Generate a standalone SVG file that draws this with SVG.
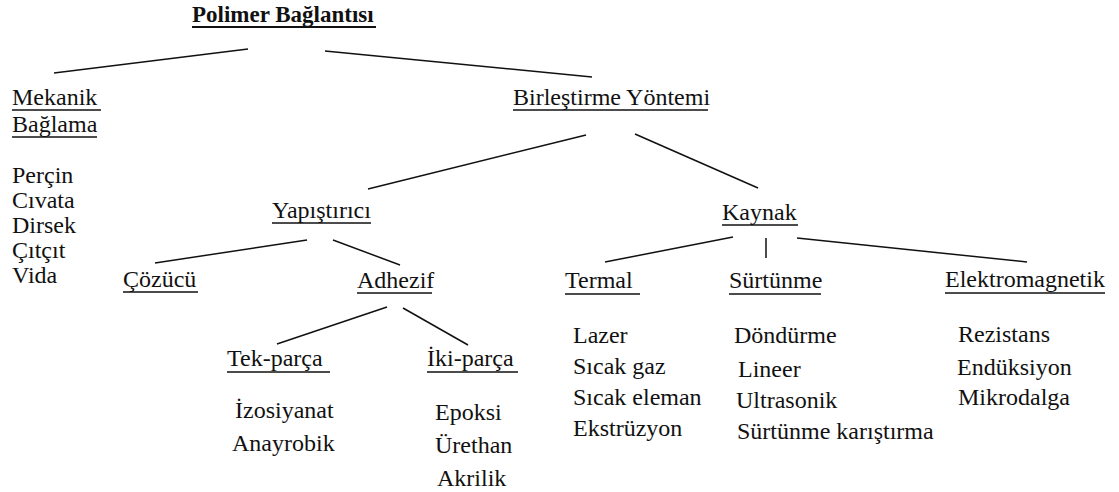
<svg xmlns="http://www.w3.org/2000/svg" width="1119" height="492" viewBox="0 0 1119 492">
<style>
text{font-family:'Liberation Serif','Tinos','Times New Roman','DejaVu Serif',serif;font-size:24px;fill:#111}
.title{font-weight:bold;font-size:23px}
.ul{stroke:#111;stroke-width:1.5}
.ut{stroke:#111;stroke-width:2.2}
.c line{stroke:#111;stroke-width:1.5}
</style>
<rect width="1119" height="492" fill="#fff"/>
<g class="c" id="connectors">
<line x1="248" y1="49" x2="54" y2="73"/>
<line x1="325" y1="51" x2="592" y2="77"/>
<line x1="586" y1="135" x2="368" y2="189"/>
<line x1="635" y1="134" x2="758" y2="188"/>
<line x1="307" y1="240" x2="155" y2="263"/>
<line x1="333" y1="240" x2="400" y2="265"/>
<line x1="387" y1="307" x2="277" y2="344"/>
<line x1="403" y1="308" x2="468" y2="345"/>
<line x1="733" y1="237" x2="605" y2="262"/>
<line x1="766" y1="238" x2="766" y2="258"/>
<line x1="797" y1="238" x2="1027" y2="262"/>
</g>
<g font-family="Liberation Serif, Times New Roman, serif">
<g id="n-title"><text class="title" x="192" y="22">Polimer Bağlantısı</text><line class="ut" x1="192" y1="27" x2="376" y2="27"/></g>
<g id="n-mekanik"><text x="12" y="105">Mekanik</text><line class="ul" x1="12" y1="110" x2="101" y2="110"/><text x="12" y="132">Bağlama</text><line class="ul" x1="12" y1="137" x2="97" y2="137"/></g>
<g id="n-mekanik-list"><text x="12" y="183">Perçin</text><text x="12" y="208">Cıvata</text><text x="12" y="233">Dirsek</text><text x="12" y="258">Çıtçıt</text><text x="12" y="283">Vida</text></g>
<g id="n-birlestirme"><text x="513" y="105">Birleştirme Yöntemi</text><line class="ul" x1="513" y1="110" x2="708" y2="110"/></g>
<g id="n-yapistirici"><text x="272" y="218">Yapıştırıcı</text><line class="ul" x1="272" y1="223" x2="371" y2="223"/></g>
<g id="n-kaynak"><text x="722" y="220">Kaynak</text><line class="ul" x1="722" y1="225" x2="798" y2="225"/></g>
<g id="n-cozucu"><text x="123" y="287">Çözücü</text><line class="ul" x1="123" y1="292" x2="198" y2="292"/></g>
<g id="n-adhezif"><text x="357" y="288">Adhezif</text><line class="ul" x1="357" y1="293" x2="432" y2="293"/></g>
<g id="n-termal"><text x="565" y="288">Termal</text><line class="ul" x1="565" y1="294" x2="640" y2="294"/></g>
<g id="n-surtunme"><text x="729" y="288">Sürtünme</text><line class="ul" x1="729" y1="294" x2="821" y2="294"/></g>
<g id="n-elektro"><text x="945" y="287">Elektromagnetik</text><line class="ul" x1="945" y1="293" x2="1105" y2="293"/></g>
<g id="n-tekparca"><text x="227" y="366">Tek-parça</text><line class="ul" x1="227" y1="372" x2="330" y2="372"/></g>
<g id="n-ikiparca"><text x="427" y="366">İki-parça</text><line class="ul" x1="427" y1="372" x2="518" y2="372"/></g>
<g id="n-tek-list"><text x="235" y="418">İzosiyanat</text><text x="232" y="451">Anayrobik</text></g>
<g id="n-iki-list"><text x="435" y="420">Epoksi</text><text x="435" y="453">Ürethan</text><text x="437" y="486">Akrilik</text></g>
<g id="n-termal-list"><text x="573" y="343">Lazer</text><text x="573" y="374">Sıcak gaz</text><text x="573" y="405">Sıcak eleman</text><text x="573" y="436">Ekstrüzyon</text></g>
<g id="n-surtunme-list"><text x="734" y="343">Döndürme</text><text x="738" y="377">Lineer</text><text x="736" y="408">Ultrasonik</text><text x="737" y="439">Sürtünme karıştırma</text></g>
<g id="n-elektro-list"><text x="958" y="342">Rezistans</text><text x="957" y="375">Endüksiyon</text><text x="958" y="405">Mikrodalga</text></g>
</g>
</svg>
